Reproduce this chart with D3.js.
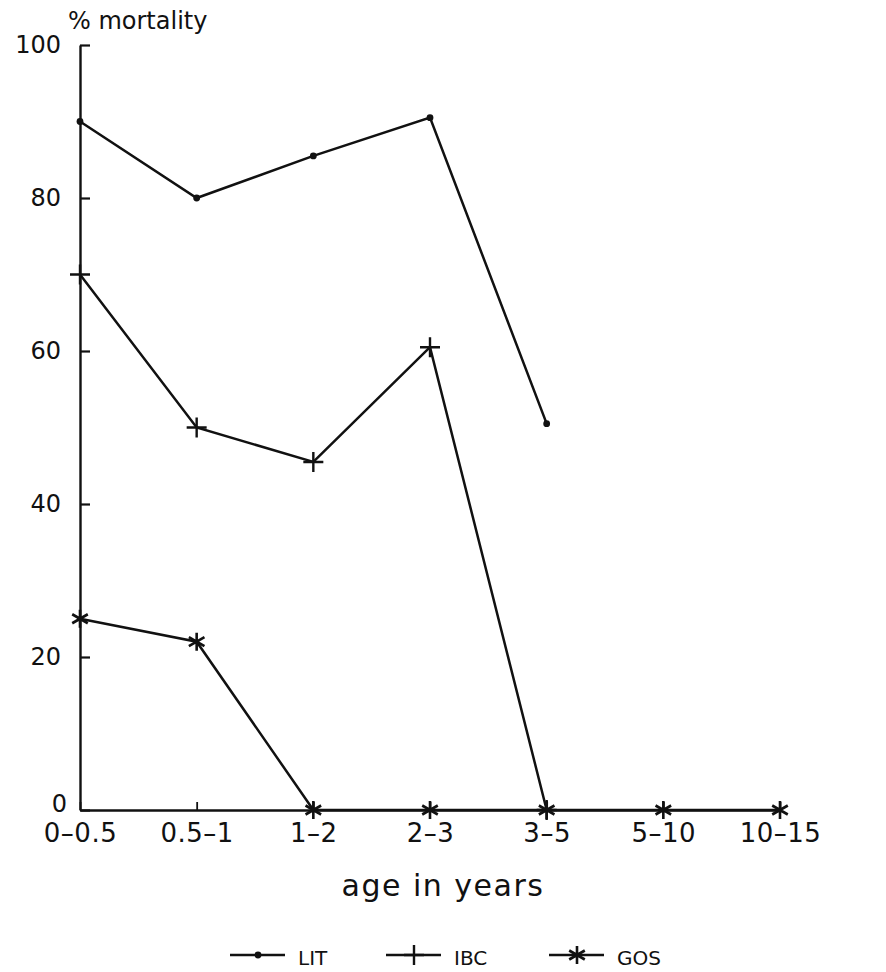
<!DOCTYPE html>
<html>
<head>
<meta charset="utf-8">
<script src="https://cdn.jsdelivr.net/npm/d3@7"></script>
<style>
  body { margin: 0; background: #fff; }
  svg { display: block; }
  text { font-family: "DejaVu Sans", sans-serif; fill: #111; }
</style>
</head>
<body>
<svg id="chart"></svg>
<script>
// age groups and % mortality per group
const ageGroups = ["0\u20130.5", "0.5\u20131", "1\u20132", "2\u20133", "3\u20135", "5\u201310", "10\u201315"];
const litValues = [90, 80, 85.5, 90.5, 50.5];
const ibcValues = [70, 50, 45.5, 60.5, 0];
const gosValues = [25, 22, 0, 0, 0, 0, 0];
const yTicks = [0, 20, 40, 60, 80, 100];

const W = 886, H = 972;
const svg = d3.select('#chart').attr('width', W).attr('height', H);

const x = d3.scalePoint().domain(ageGroups).range([80, 780]);
const y = d3.scaleLinear().domain([0, 100]).range([810, 45]);

const series = [
  { name: "LIT", values: litValues, marker: "dot" },
  { name: "IBC", values: ibcValues, marker: "plus" },
  { name: "GOS", values: gosValues, marker: "star" }
];

// axes, ticks pointing inward like the old plotter
const yAxis = d3.axisLeft(y).tickValues(yTicks).tickSizeInner(-10).tickSizeOuter(0).tickPadding(19);
const gy = svg.append('g').attr('transform', `translate(${x(ageGroups[0])},0)`).call(yAxis);
gy.select('.domain').attr('stroke', '#111').attr('stroke-width', 2.4);
gy.selectAll('.tick line').attr('stroke', '#111').attr('stroke-width', 2.2);
gy.selectAll('.tick text').attr('font-size', 24).attr('font-family', '"DejaVu Sans", sans-serif').attr('fill', '#111');
// the zero label sits a bit higher so it clears the first category label
gy.selectAll('.tick').filter(d => d === 0).select('text').attr('dx', 6).attr('y', -6);

const xAxis = d3.axisBottom(x).tickSizeInner(-8).tickSizeOuter(0).tickPadding(14);
const gx = svg.append('g').attr('transform', `translate(0,${y(0)})`).call(xAxis);
gx.select('.domain').attr('stroke', '#111').attr('stroke-width', 2.4);
gx.selectAll('.tick line').attr('stroke', '#111').attr('stroke-width', 1.8);
gx.selectAll('.tick text').attr('font-size', 26).attr('letter-spacing', 0.5)
  .attr('font-family', '"DejaVu Sans", sans-serif').attr('fill', '#111');

svg.append('text')
  .attr('x', 68).attr('y', 29)
  .attr('font-size', 24)
  .text('% mortality');

svg.append('text')
  .attr('x', 443).attr('y', 896)
  .attr('text-anchor', 'middle')
  .attr('font-size', 30)
  .attr('letter-spacing', 1.5)
  .text('age in years');

// markers
function drawMarker(g, kind, cx, cy) {
  if (kind === "dot") {
    g.append('circle').attr('cx', cx).attr('cy', cy).attr('r', 3.4).attr('fill', '#111');
  } else if (kind === "plus") {
    g.append('path')
      .attr('d', `M${cx - 10},${cy}H${cx + 10}M${cx},${cy - 10}V${cy + 10}`)
      .attr('stroke', '#111').attr('stroke-width', 2.4).attr('fill', 'none');
  } else {
    const r = 9;
    let d = `M${cx},${cy - r}V${cy + r}`;
    [30, 150].forEach(a => {
      const dx = r * Math.cos(a * Math.PI / 180), dy = r * Math.sin(a * Math.PI / 180);
      d += `M${cx - dx},${cy - dy}L${cx + dx},${cy + dy}`;
    });
    g.append('path').attr('d', d)
      .attr('stroke', '#111').attr('stroke-width', 2.6).attr('fill', 'none');
  }
}

const line = d3.line().x((d, i) => x(ageGroups[i])).y(d => y(d));

series.forEach(s => {
  const g = svg.append('g');
  g.append('path')
    .attr('d', line(s.values))
    .attr('fill', 'none')
    .attr('stroke', '#111')
    .attr('stroke-width', 2.5);
  s.values.forEach((v, i) => drawMarker(g, s.marker, x(ageGroups[i]), y(v)));
});

// legend
const legendX = [230, 386, 549];
const legend = svg.append('g').attr('transform', 'translate(0,955)');
series.forEach((s, i) => {
  const lx = legendX[i];
  legend.append('line')
    .attr('x1', lx).attr('x2', lx + 55).attr('y1', 0).attr('y2', 0)
    .attr('stroke', '#111').attr('stroke-width', 2.4);
  drawMarker(legend, s.marker, lx + 28, 0);
  legend.append('text')
    .attr('x', lx + 68).attr('y', 10)
    .attr('font-size', 20)
    .text(s.name);
});
</script>
</body>
</html>
